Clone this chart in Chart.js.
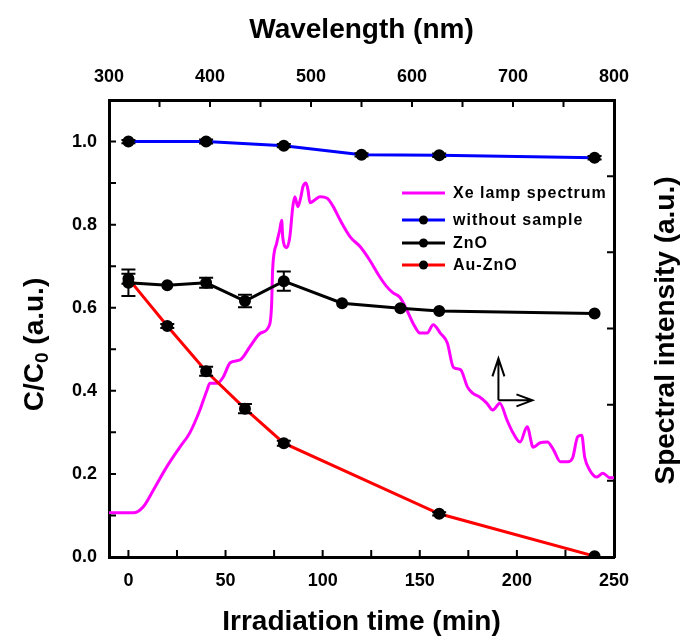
<!DOCTYPE html>
<html lang="en">
<head>
  <meta charset="UTF-8" />
  <title>Photodegradation under Xe lamp</title>
  <script src="https://cdn.jsdelivr.net/npm/chart.js@4.4.3/dist/chart.umd.min.js"></script>
  <style>
    html, body {
      margin: 0;
      padding: 0;
      background: #fff;
    }

    #wrap {
      width: 681px;
      height: 643px;
      position: relative;
    }
  </style>
</head>
<body>
  <div id="wrap"><canvas id="degradation"></canvas></div>

  <script>
    // C/C0 against irradiation time (min)
    const timeBlank = [0, 40, 80, 120, 160, 240];
    const blankC = [1.0, 1.0, 0.99, 0.968, 0.967, 0.961];
    const blankErr = [0.004, 0.005, 0.004, 0.004, 0.004, 0.004];

    const timeZnO = [0, 20, 40, 60, 80, 110, 140, 160, 240];
    const znoC = [0.66, 0.654, 0.66, 0.616, 0.664, 0.611, 0.599, 0.592, 0.586];
    const znoErr = [0.032, 0, 0.012, 0.015, 0.023, 0, 0, 0, 0];

    const timeAuZnO = [0, 20, 40, 60, 80, 160, 240];
    const auZnoC = [0.67, 0.556, 0.447, 0.357, 0.274, 0.104, 0.002];
    const auZnoErr = [0.012, 0.005, 0.011, 0.011, 0.006, 0.004, 0];

    // Xe lamp emission, wavelength (nm) vs intensity (a.u.)
    const lampNm = [300, 324, 334, 344, 357, 370, 380, 390, 397, 400,
      407, 413, 420, 430, 440, 450, 459, 461, 462, 466,
      469, 471, 472, 476, 479, 482, 484, 487, 490, 492,
      495, 497, 499, 504, 509, 516, 522, 529, 539, 549,
      558, 568, 575, 581, 588, 595, 601, 608, 615, 621,
      628, 635, 641, 648, 655, 660, 667, 674, 680, 687,
      694, 700, 707, 714, 720, 727, 734, 740, 747, 754,
      759, 764, 768, 771, 776, 783, 789, 796, 800];
    const lampI = [0.58, 0.58, 0.66, 0.88, 1.18, 1.44, 1.63, 1.93, 2.19, 2.28,
      2.28, 2.36, 2.55, 2.59, 2.77, 2.94, 3.05, 3.31, 3.77, 4.12,
      4.29, 4.42, 4.20, 4.06, 4.20, 4.60, 4.73, 4.60, 4.73, 4.86,
      4.91, 4.82, 4.65, 4.69, 4.73, 4.71, 4.60, 4.42, 4.20, 4.07,
      3.90, 3.68, 3.55, 3.47, 3.41, 3.24, 3.07, 2.94, 2.94, 3.05,
      2.94, 2.81, 2.49, 2.46, 2.23, 2.15, 2.10, 2.02, 1.93, 2.02,
      1.80, 1.63, 1.51, 1.71, 1.44, 1.50, 1.51, 1.41, 1.25, 1.25,
      1.30, 1.58, 1.60, 1.31, 1.14, 1.05, 1.10, 1.04, 1.04];

    // tick positions for the four sides of the frame
    const timeTicks = [0, 25, 50, 75, 100, 125, 150, 175, 200, 225, 250];
    const nmTicks = [300, 350, 400, 450, 500, 550, 600, 650, 700, 750, 800];
    const ratioTicks = [0, 0.1, 0.2, 0.3, 0.4, 0.5, 0.6, 0.7, 0.8, 0.9, 1.0, 1.1];
    const intensityTicks = [0, 1, 2, 3, 4, 5, 6];

    const seriesNames = ['Xe lamp spectrum', 'without sample', 'ZnO', 'Au-ZnO'];
    const seriesColors = ['#ff00ff', '#0000ff', '#000000', '#ff0000'];

    const FONT = '"Liberation Sans", Arial, sans-serif';

    const toPoints = (xs, ys) => xs.map((x, i) => ({ x: x, y: ys[i] }));

    const errorSets = [
      { xs: timeBlank, ys: blankC, err: blankErr },
      { xs: timeZnO, ys: znoC, err: znoErr },
      { xs: timeAuZnO, ys: auZnoC, err: auZnoErr }
    ];

    function setTicks(values) {
      return scale => { scale.ticks = values.map(v => ({ value: v })); };
    }

    // frame decorations: inward ticks, error bars, titles, legend, arrows
    const decorations = {
      id: 'decorations',
      afterDatasetsDraw(chart) {
        const ctx = chart.ctx;
        const sx = chart.scales.x, sy = chart.scales.y;
        ctx.save();
        ctx.strokeStyle = '#000';
        ctx.lineWidth = 2;
        errorSets.forEach(set => {
          set.xs.forEach((t, i) => {
            const e = set.err[i];
            if (!e) return;
            const px = sx.getPixelForValue(t);
            const top = sy.getPixelForValue(set.ys[i] + e);
            const bot = sy.getPixelForValue(set.ys[i] - e);
            ctx.beginPath();
            ctx.moveTo(px, top); ctx.lineTo(px, bot);
            ctx.moveTo(px - 7, top); ctx.lineTo(px + 7, top);
            ctx.moveTo(px - 7, bot); ctx.lineTo(px + 7, bot);
            ctx.stroke();
          });
        });
        ctx.restore();
      },
      afterDraw(chart) {
        const ctx = chart.ctx;
        const a = chart.chartArea;
        const s = chart.scales;
        const len = 7;

        ctx.save();
        ctx.strokeStyle = '#000';
        ctx.lineWidth = 2;
        ctx.beginPath();
        timeTicks.forEach(v => {
          const p = s.x.getPixelForValue(v);
          ctx.moveTo(p, a.bottom); ctx.lineTo(p, a.bottom - len);
        });
        nmTicks.forEach(v => {
          const p = s.xNm.getPixelForValue(v);
          ctx.moveTo(p, a.top); ctx.lineTo(p, a.top + len);
        });
        ratioTicks.forEach(v => {
          const p = s.y.getPixelForValue(v);
          ctx.moveTo(a.left, p); ctx.lineTo(a.left + len, p);
        });
        intensityTicks.forEach(v => {
          const p = s.yInt.getPixelForValue(v);
          ctx.moveTo(a.right, p); ctx.lineTo(a.right - len, p);
        });
        ctx.stroke();

        // axis titles
        ctx.fillStyle = '#000';
        ctx.textAlign = 'center';
        ctx.textBaseline = 'middle';
        const big = 'bold 28px ' + FONT, small = 'bold 19px ' + FONT;
        ctx.font = big;
        const midX = (a.left + a.right) / 2;
        const midY = (a.top + a.bottom) / 2;
        ctx.fillText('Wavelength (nm)', midX, 30);
        ctx.fillText('Irradiation time (min)', midX, 622);

        ctx.save();
        ctx.translate(666, midY + 2);
        ctx.rotate(-Math.PI / 2);
        ctx.fillText('Spectral intensity (a.u.)', 0, 0);
        ctx.restore();

        // C/C0 with a real subscript
        ctx.save();
        ctx.translate(35, midY + 16);
        ctx.rotate(-Math.PI / 2);
        ctx.textAlign = 'left';
        const w1 = ctx.measureText('C/C').width;
        const w3 = ctx.measureText(' (a.u.)').width;
        ctx.font = small;
        const w2 = ctx.measureText('0').width;
        const x0 = -(w1 + w2 + w3) / 2;
        ctx.font = big;
        ctx.fillText('C/C', x0, 0);
        ctx.font = small;
        ctx.fillText('0', x0 + w1, 8);
        ctx.font = big;
        ctx.fillText(' (a.u.)', x0 + w1 + w2, 0);
        ctx.restore();

        // legend
        const rows = [193, 220, 243, 265];
        ctx.font = 'bold 16px ' + FONT;
        ctx.letterSpacing = '1px';
        ctx.textAlign = 'left';
        seriesNames.forEach((name, i) => {
          const y = rows[i];
          ctx.strokeStyle = seriesColors[i];
          ctx.lineWidth = 3;
          ctx.beginPath();
          ctx.moveTo(402, y); ctx.lineTo(445, y);
          ctx.stroke();
          if (i > 0) {
            ctx.fillStyle = '#000';
            ctx.beginPath();
            ctx.arc(423.5, y, 4.5, 0, Math.PI * 2);
            ctx.fill();
          }
          ctx.fillStyle = '#000';
          ctx.fillText(name, 453, y + 1);
        });
        ctx.letterSpacing = '0px';

        // arrows pointing to the lamp's axes (up = intensity, right = wavelength)
        const ax = s.x.getPixelForValue(190.5);
        const ay = s.y.getPixelForValue(0.377);
        ctx.strokeStyle = '#000';
        ctx.lineWidth = 2;
        ctx.beginPath();
        ctx.moveTo(ax, ay); ctx.lineTo(ax, ay - 42);
        ctx.moveTo(ax - 6, ay - 24); ctx.lineTo(ax, ay - 42); ctx.lineTo(ax + 6, ay - 24);
        ctx.moveTo(ax, ay); ctx.lineTo(ax + 34, ay);
        ctx.moveTo(ax + 18, ay - 6); ctx.lineTo(ax + 34, ay); ctx.lineTo(ax + 18, ay + 6);
        ctx.stroke();
        ctx.restore();
      }
    };

    const tickFont = { family: FONT, size: 18, weight: 'bold' };
    const plainGrid = { display: false, drawTicks: false };
    const frameBorder = { display: true, color: '#000', width: 3 };

    new Chart(document.getElementById('degradation'), {
      type: 'line',
      data: {
        datasets: [
          {
            label: seriesNames[1],
            data: toPoints(timeBlank, blankC),
            xAxisID: 'x', yAxisID: 'y',
            borderColor: seriesColors[1], borderWidth: 3,
            pointBackgroundColor: '#000', pointBorderColor: '#000', pointRadius: 4.5,
            tension: 0
          },
          {
            label: seriesNames[2],
            data: toPoints(timeZnO, znoC),
            xAxisID: 'x', yAxisID: 'y',
            borderColor: seriesColors[2], borderWidth: 3,
            pointBackgroundColor: '#000', pointBorderColor: '#000', pointRadius: 4.5,
            tension: 0
          },
          {
            label: seriesNames[3],
            data: toPoints(timeAuZnO, auZnoC),
            xAxisID: 'x', yAxisID: 'y',
            borderColor: seriesColors[3], borderWidth: 3,
            pointBackgroundColor: '#000', pointBorderColor: '#000', pointRadius: 4.5,
            tension: 0
          },
          {
            label: seriesNames[0],
            data: toPoints(lampNm, lampI),
            xAxisID: 'xNm', yAxisID: 'yInt',
            borderColor: seriesColors[0], borderWidth: 3,
            pointRadius: 0,
            cubicInterpolationMode: 'monotone'
          }
        ]
      },
      options: {
        responsive: true,
        maintainAspectRatio: false,
        animation: false,
        events: [],
        layout: { padding: 0 },
        plugins: {
          legend: { display: false },
          tooltip: { enabled: false }
        },
        scales: {
          x: {
            type: 'linear', position: 'bottom', min: -10, max: 250,
            afterBuildTicks: setTicks(timeTicks),
            afterFit: scale => { scale.height = 86; },
            ticks: {
              font: tickFont, color: '#000', padding: 13, maxRotation: 0, autoSkip: false,
              callback: v => (v % 50 === 0 ? v : '')
            },
            grid: plainGrid, border: frameBorder
          },
          xNm: {
            type: 'linear', position: 'top', min: 300, max: 800,
            afterBuildTicks: setTicks(nmTicks),
            afterFit: scale => { scale.height = 100; },
            ticks: {
              font: tickFont, color: '#000', padding: 12, maxRotation: 0, autoSkip: false,
              callback: v => (v % 100 === 0 ? v : '')
            },
            grid: plainGrid, border: frameBorder
          },
          y: {
            type: 'linear', position: 'left', min: 0, max: 1.1,
            afterBuildTicks: setTicks(ratioTicks),
            afterFit: scale => { scale.width = 109; },
            ticks: {
              font: tickFont, color: '#000', padding: 12, autoSkip: false,
              callback: v => (Math.round(v * 10) % 2 === 0 ? v.toFixed(1) : '')
            },
            grid: plainGrid, border: frameBorder
          },
          yInt: {
            type: 'linear', position: 'right', min: 0, max: 6,
            afterBuildTicks: setTicks(intensityTicks),
            afterFit: scale => { scale.width = 67; },
            ticks: { display: false },
            grid: plainGrid, border: frameBorder
          }
        }
      },
      plugins: [decorations]
    });
  </script>
</body>
</html>
